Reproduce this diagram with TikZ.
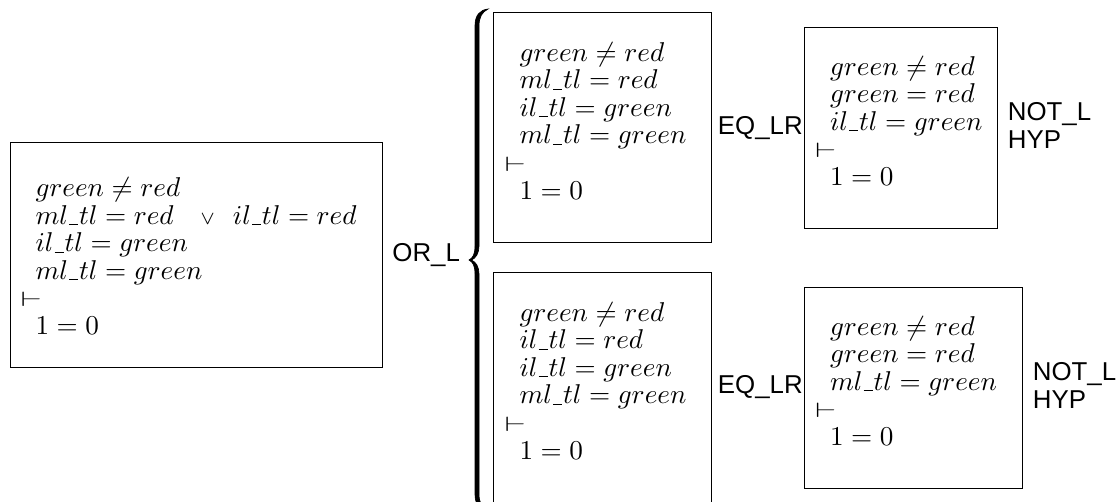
\documentclass[tikz,border=0pt]{standalone}
\usepackage{graphicx}
\usepackage{fontspec}
\newfontfamily\rulefont{Liberation Sans}
\usetikzlibrary{calc}

% one drawing unit
\newcommand\pxu{0.3676pt}
% underscore for identifiers
\newcommand\usc{\mbox{\kern0.04em\lower0.4pt\vbox{\hrule width 0.34em height 0.42pt}\kern0.04em}}
% an indented hypothesis line and the turnstile line
\newcommand\hyp[1]{\hspace*{5.5pt}$#1$}
\newcommand\turnstile{\resizebox{7.8pt}{5.3pt}{$\vdash$}}

\tikzset{
  seqbox/.style 2 args={draw, line width=0.5pt, rectangle, inner sep=0pt,
    anchor=north west, minimum width=#1*\pxu, minimum height=#2*\pxu},
  seqtext/.style={anchor=base west, inner sep=0pt,
    font=\fontsize{9.65}{10.15}\selectfont},
  rulelabel/.style={anchor=west, inner sep=0pt, align=left,
    font=\rulefont\fontsize{9.5}{10.3}\selectfont},
  bracefill/.style={fill=black, draw=black, line width=0.25pt},
}

\begin{document}
\begin{tikzpicture}[x=\pxu, y=-\pxu]
\path[use as bounding box, clip] (0,0) rectangle (1120,501);

% sequent boxes
\node[seqbox={372}{225}] (b1) at (10,142) {};
\node[seqbox={218}{230}] (b2) at (493,12) {};
\node[seqbox={218}{231}] (b3) at (493,272) {};
\node[seqbox={193}{201}] (b4) at (804,27) {};
\node[seqbox={218}{201}] (b5) at (804,287) {};

% sequent contents
\node[seqtext] (s1) at ($(b1.north west)+(10,54.5)$) {\begin{tabular}[t]{@{}l@{}}
  \hyp{green \neq red}\\
  \hyp{ml\usc tl = red\hskip9.8pt{\scriptstyle\vee}\hskip6.6pt il\usc tl = red}\\
  \hyp{il\usc tl = green}\\
  \hyp{ml\usc tl = green}\\
  \turnstile\\
  \hyp{1 = 0}
\end{tabular}};

\node[seqtext] (s2) at ($(b2.north west)+(11,49)$) {\begin{tabular}[t]{@{}l@{}}
  \hyp{green \neq red}\\
  \hyp{ml\usc tl = red}\\
  \hyp{il\usc tl = green}\\
  \hyp{ml\usc tl = green}\\
  \turnstile\\
  \hyp{1 = 0}
\end{tabular}};

\node[seqtext] (s3) at ($(b3.north west)+(11,49)$) {\begin{tabular}[t]{@{}l@{}}
  \hyp{green \neq red}\\
  \hyp{il\usc tl = red}\\
  \hyp{il\usc tl = green}\\
  \hyp{ml\usc tl = green}\\
  \turnstile\\
  \hyp{1 = 0}
\end{tabular}};

\node[seqtext] (s4) at ($(b4.north west)+(10.5,48)$) {\begin{tabular}[t]{@{}l@{}}
  \hyp{green \neq red}\\
  \hyp{green = red}\\
  \hyp{il\usc tl = green}\\
  \turnstile\\
  \hyp{1 = 0}
\end{tabular}};

\node[seqtext] (s5) at ($(b5.north west)+(10.5,48)$) {\begin{tabular}[t]{@{}l@{}}
  \hyp{green \neq red}\\
  \hyp{green = red}\\
  \hyp{ml\usc tl = green}\\
  \turnstile\\
  \hyp{1 = 0}
\end{tabular}};

% branching brace, tip towards the parent sequent
\path[bracefill]
  (488,9) .. controls (480,10) and (475,15) .. (475,26)
  -- (475,246) .. controls (475,254) and (473,258) .. (469,260)
  .. controls (473,262) and (475,266) .. (475,274)
  -- (475,494) .. controls (475,505) and (480,510) .. (488,511)
  .. controls (482,508) and (479,503) .. (479,494)
  -- (479,274) .. controls (479,267) and (476,262) .. (471.5,260)
  .. controls (476,258) and (479,253) .. (479,246)
  -- (479,26) .. controls (479,17) and (482,12) .. (488,9) -- cycle;

% rule names
\node[rulelabel] (r1) at ($(b1.east)+(8.5,0)$) {OR\_L};
\node[rulelabel] (r2) at ($(b2.east)+(5,0)$) {EQ\_LR};
\node[rulelabel] (r3) at ($(b3.east)+(5,-1.5)$) {EQ\_LR};
\node[rulelabel] (r4) at ($(b4.east)+(9,-3)$) {NOT\_L\\HYP};
\node[rulelabel] (r5) at ($(b5.east)+(9,-3)$) {NOT\_L\\HYP};
\end{tikzpicture}
\end{document}
